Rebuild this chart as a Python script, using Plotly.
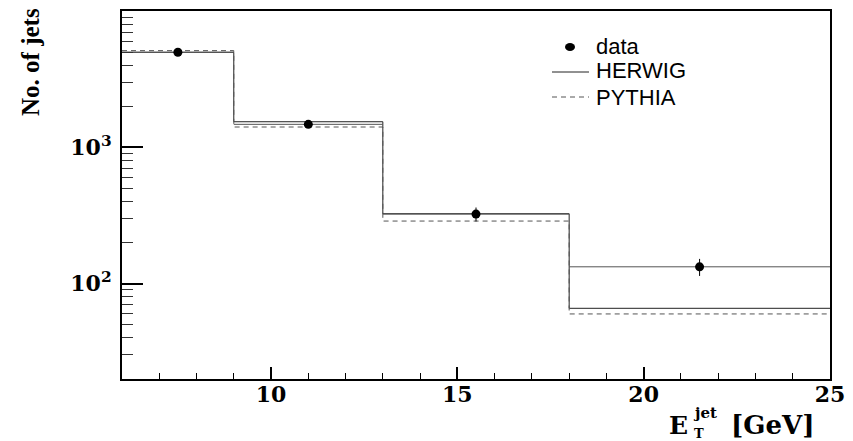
import plotly.graph_objects as go

# ---- data ----
bin_edges = [6, 9, 13, 18, 25]
bin_centers = [7.5, 11, 15.5, 21.5]
bin_halfwidths = [1.5, 2, 2.5, 3.5]
data_values = [4980, 1475, 324, 133]
data_errors = [70, 40, 38, 19]
herwig_values = [4980, 1541, 326, 66]
pythia_values = [5120, 1410, 288, 60]

y_tickvals = [100, 1000]
y_ticktext = ["10<sup>2</sup>", "10<sup>3</sup>"]
x_tickvals = [10, 15, 20, 25]
legend_labels = ["data", "HERWIG", "PYTHIA"]

# page body has an 8px margin; compensate so the plot area lands at 122..830 x 11..379
OFF = 8
W, H = 853 - OFF, 441 - OFF
PL, PR, PT, PB = 122, 830, 11, 379          # plot area in page pixels
ML, MR, MT, MB = PL - OFF, 853 - PR, PT - OFF, 441 - PB
PW, PH = PR - PL, PB - PT


def px(x):
    return (x - PL) / PW


def py(y):
    return (PB - y) / PH


fig = go.Figure()

fig.add_trace(go.Scatter(
    x=bin_edges, y=herwig_values + [herwig_values[-1]],
    mode="lines", line=dict(shape="hv", color="#222222", width=1),
    name="HERWIG", showlegend=False,
))
fig.add_trace(go.Scatter(
    x=bin_edges, y=pythia_values + [pythia_values[-1]],
    mode="lines", line=dict(shape="hv", color="#555555", width=1, dash="5px,4px"),
    name="PYTHIA", showlegend=False,
))
fig.add_trace(go.Scatter(
    x=bin_centers, y=data_values, mode="markers",
    marker=dict(symbol="circle", size=9, color="black"),
    error_y=dict(type="data", array=data_errors, visible=True, thickness=1, width=0, color="black"),
    error_x=dict(type="data", array=bin_halfwidths, visible=True, thickness=1, width=0, color="#555555"),
    name="data", showlegend=False,
))

tickfont = dict(family="DejaVu Serif", size=22, color="black", weight="bold")

fig.update_xaxes(
    range=[6, 25], tickmode="array", tickvals=x_tickvals,
    ticks="inside", ticklen=12, tickwidth=1.5, tickcolor="black",
    minor=dict(dtick=1, tick0=0, ticks="inside", ticklen=6, tickwidth=1, tickcolor="black", showgrid=False),
    showline=True, linecolor="black", linewidth=2, mirror=True,
    showgrid=False, zeroline=False, tickfont=tickfont, ticklabelstandoff=-5,
)
fig.update_yaxes(
    type="log", range=[1.30103, 4.0],
    tickmode="array", tickvals=y_tickvals, ticktext=y_ticktext,
    ticks="inside", ticklen=21, tickwidth=1.5, tickcolor="black",
    minor=dict(dtick="D1", ticks="inside", ticklen=11, tickwidth=1, tickcolor="#333333", showgrid=False),
    showline=True, linecolor="black", linewidth=2, mirror=True,
    showgrid=False, zeroline=False, tickfont=tickfont, ticklabelstandoff=4,
)

serif_bold = dict(family="DejaVu Serif", color="black", weight="bold")
sans = dict(family="Liberation Sans", size=22, color="black")
annotations = [
    # y title
    dict(text="No. of jets", x=px(30), y=py(62), xref="paper", yref="paper",
         xanchor="center", yanchor="middle", textangle=-90, showarrow=False,
         font=dict(family="Liberation Serif", size=25, color="black", weight="bold")),
    # x title pieces
    dict(text="E", x=px(690), y=py(425), xref="paper", yref="paper",
         xanchor="right", yanchor="middle", showarrow=False, font=dict(size=25, **serif_bold)),
    dict(text="jet", x=px(691), y=py(413), xref="paper", yref="paper",
         xanchor="left", yanchor="middle", showarrow=False, font=dict(size=15, **serif_bold)),
    dict(text="T", x=px(692), y=py(433), xref="paper", yref="paper",
         xanchor="left", yanchor="middle", showarrow=False, font=dict(size=13, **serif_bold)),
    dict(text="[GeV]", x=px(817), y=py(425), xref="paper", yref="paper",
         xanchor="right", yanchor="middle", showarrow=False, font=dict(size=26, **serif_bold)),
    # legend texts
    dict(text=legend_labels[0], x=px(594), y=py(46), xref="paper", yref="paper",
         xanchor="left", yanchor="middle", showarrow=False, font=sans),
    dict(text=legend_labels[1], x=px(594), y=py(71), xref="paper", yref="paper",
         xanchor="left", yanchor="middle", showarrow=False, font=sans),
    dict(text=legend_labels[2], x=px(594), y=py(97), xref="paper", yref="paper",
         xanchor="left", yanchor="middle", showarrow=False, font=sans),
]

shapes = [
    # legend symbols
    dict(type="circle", xref="paper", yref="paper",
         x0=px(565), x1=px(575), y0=py(51), y1=py(43),
         fillcolor="black", line=dict(color="black", width=0)),
    dict(type="line", xref="paper", yref="paper",
         x0=px(552), x1=px(589), y0=py(72), y1=py(72),
         line=dict(color="#222222", width=1)),
    dict(type="line", xref="paper", yref="paper",
         x0=px(552), x1=px(589), y0=py(97), y1=py(97),
         line=dict(color="#555555", width=1, dash="5px,4px")),
]

fig.update_layout(
    width=W, height=H,
    margin=dict(l=ML, r=MR, t=MT, b=MB, autoexpand=False),
    paper_bgcolor="white", plot_bgcolor="white",
    annotations=annotations, shapes=shapes,
    showlegend=False,
)

fig.write_html("out.html")
